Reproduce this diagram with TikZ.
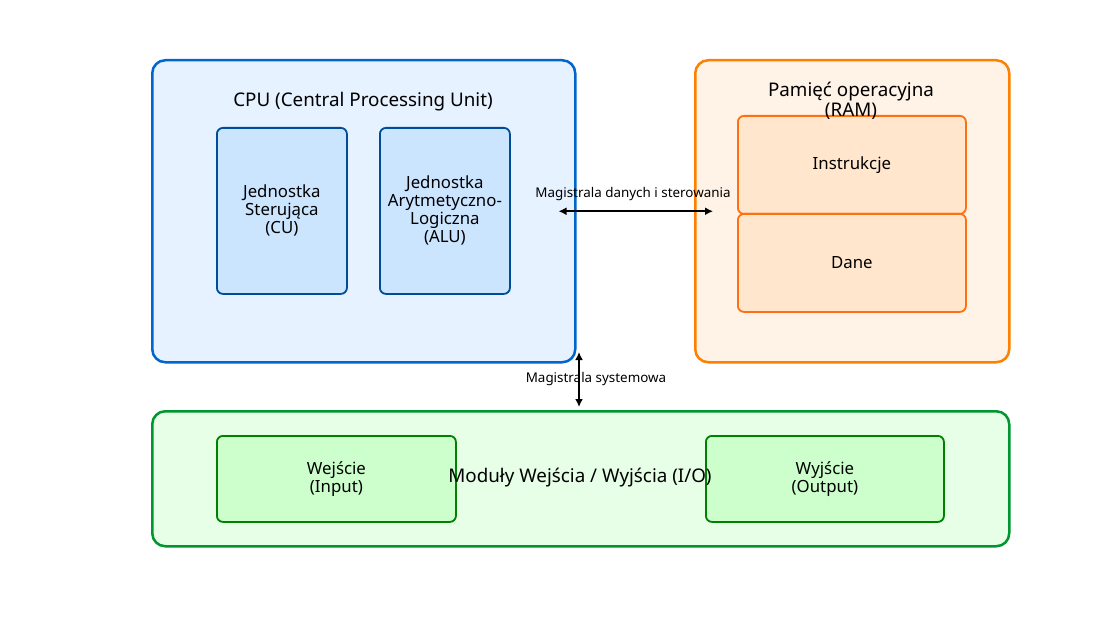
\documentclass[tikz,border=0pt]{standalone}
\usepackage{fontspec}
\setmainfont{Noto Sans}
\usetikzlibrary{arrows.meta}
\definecolor{cpufill}{HTML}{E6F2FF}
\definecolor{cpuline}{HTML}{0066CC}
\definecolor{unitfill}{HTML}{CCE5FF}
\definecolor{unitline}{HTML}{004C99}
\definecolor{ramfill}{HTML}{FFF2E6}
\definecolor{ramline}{HTML}{FF8000}
\definecolor{memfill}{HTML}{FFE6CC}
\definecolor{memline}{HTML}{FF7010}
\definecolor{iofill}{HTML}{E6FFE6}
\definecolor{ioline}{HTML}{00962F}
\definecolor{devfill}{HTML}{CCFFCC}
\definecolor{devline}{HTML}{008000}
\tikzset{
  outerbox/.style={draw, line width=2.5pt, rounded corners=13pt, inner sep=0pt, anchor=north west},
  innerbox/.style={draw, line width=1.8pt, rounded corners=6pt, inner sep=0pt, anchor=north west},
  title/.style={font=\fontsize{18.8}{20}\selectfont, align=center, inner sep=0pt},
  boxtext/.style={font=\fontsize{16.8}{18}\selectfont, align=center, inner sep=0pt},
  buslabel/.style={font=\fontsize{13.4}{15}\selectfont, inner sep=0pt},
  bus/.style={line width=2.2pt, {Latex[length=8pt,width=8pt]}-{Latex[length=8pt,width=8pt]}},
}
\begin{document}
\begin{tikzpicture}[x=1pt,y=-1pt]
\useasboundingbox (0,0) rectangle (1105,636);
% CPU
\node[outerbox, fill=cpufill, draw=cpuline, minimum width=423pt, minimum height=302pt] (cpu) at (151,59) {};
\node[title] (cputitle) at (363,102) {CPU (Central Processing Unit)};
\node[innerbox, fill=unitfill, draw=unitline, minimum width=130pt, minimum height=166pt] (cu) at (216,127) {};
\node[boxtext] (cutext) at (cu.center) {Jednostka\\Sterująca\\(CU)};
\node[innerbox, fill=unitfill, draw=unitline, minimum width=130pt, minimum height=166pt] (alu) at (379,127) {};
\node[boxtext] (alutext) at (alu.center) {Jednostka\\Arytmetyczno-\\Logiczna\\(ALU)};
% RAM
\node[outerbox, fill=ramfill, draw=ramline, minimum width=314pt, minimum height=302pt] (ram) at (694,59) {};
\node[innerbox, fill=memfill, draw=memline, minimum width=228pt, minimum height=98pt] (instr) at (737,115) {};
\node[boxtext] (instrtext) at (instr.center) {Instrukcje};
\node[innerbox, fill=memfill, draw=memline, minimum width=228pt, minimum height=98pt] (dane) at (737,213) {};
\node[boxtext] (danetext) at (dane.center) {Dane};
\node[title] (ramtitle) at (851,101) {Pamięć operacyjna\\(RAM)};
% IO
\node[outerbox, fill=iofill, draw=ioline, minimum width=857pt, minimum height=135pt] (io) at (151,410) {};
\node[innerbox, fill=devfill, draw=devline, minimum width=239pt, minimum height=86pt] (in) at (216,435) {};
\node[boxtext] (intext) at (in.center) {Wejście\\(Input)};
\node[innerbox, fill=devfill, draw=devline, minimum width=238pt, minimum height=86pt] (out) at (705,435) {};
\node[boxtext] (outtext) at (out.center) {Wyjście\\(Output)};
\node[title] (iotitle) at (580,478) {Moduły Wejścia / Wyjścia (I/O)};
% buses
\coordinate (busL) at ([xshift=-18pt]cpu.east);
\coordinate (busR) at ([xshift=19pt]ram.west);
\draw[bus] (busL) -- (busR);
\node[buslabel] (buslbl) at (633,194) {Magistrala danych i sterowania};
\coordinate (sysT) at (579,352);
\coordinate (sysB) at ([yshift=3pt]io.north -| sysT);
\draw[bus] (sysT) -- (sysB);
\node[buslabel] (syslbl) at (596,379) {Magistrala systemowa};
\end{tikzpicture}
\end{document}
